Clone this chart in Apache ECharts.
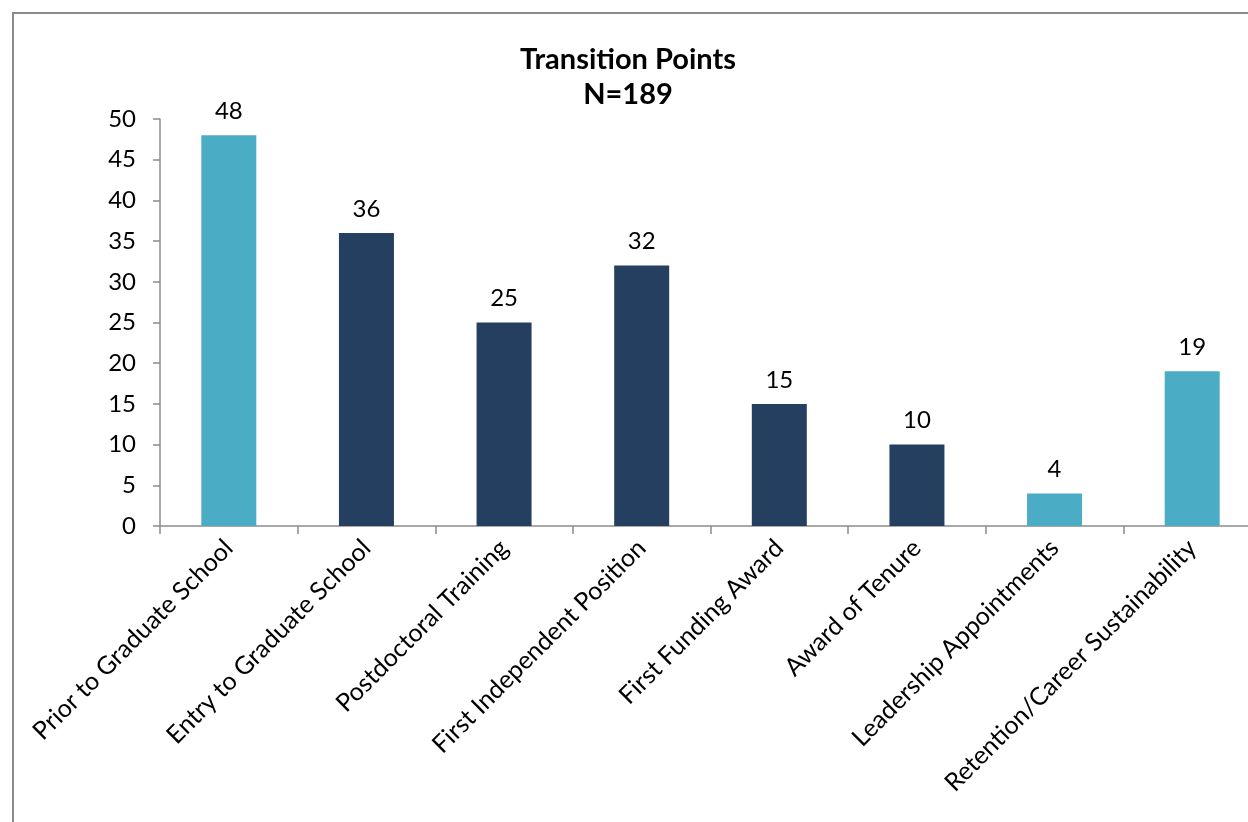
<!DOCTYPE html>
<html>
<head>
<meta charset="utf-8">
<script src="https://cdn.jsdelivr.net/npm/echarts@6/dist/echarts.min.js"></script>
<style>
html,body{margin:0;padding:0;background:#fff;}
#chart{width:1248px;height:822px;}
</style>
</head>
<body>
<div id="chart"></div>
<script>
const categories = ["Prior to Graduate School","Entry to Graduate School","Postdoctoral Training","First Independent Position","First Funding Award","Award of Tenure","Leadership Appointments","Retention/Career Sustainability"];
const values = [48, 36, 25, 32, 15, 10, 4, 19];
const barColors = ["#4BACC6","#243F60","#243F60","#243F60","#243F60","#243F60","#4BACC6","#4BACC6"];
const titleText = "Transition Points\nN=189";

const chart = echarts.init(document.getElementById('chart'));
const font = 'Lato, "Open Sans", sans-serif';
chart.setOption({
  animation: false,
  backgroundColor: '#fff',
  title: {
    text: titleText,
    left: 623,
    textAlign: 'center',
    top: 37,
    textStyle: { fontFamily: font, fontWeight: 'bold', fontSize: 29, lineHeight: 35, color: '#000' }
  },
  graphic: [{
    type: 'polyline',
    shape: { points: [[13, 822], [13, 13], [1248, 13]] },
    style: { stroke: '#8a8a8a', lineWidth: 2, fill: null },
    silent: true
  }],
  grid: { left: 160, top: 119, width: 1101, height: 407, outerBoundsMode: 'none', containLabel: false },
  xAxis: {
    type: 'category',
    data: categories,
    axisLine: { lineStyle: { color: '#8c8c8c', width: 1.5 } },
    axisTick: { show: true, length: 8, alignWithLabel: false, lineStyle: { color: '#8c8c8c', width: 1.5 } },
    axisLabel: { rotate: 45, interval: 0, margin: 18, fontFamily: font, fontSize: 25, color: '#000' }
  },
  yAxis: {
    type: 'value',
    min: 0, max: 50, interval: 5,
    splitLine: { show: false },
    axisLine: { show: true, lineStyle: { color: '#8c8c8c', width: 1.5 } },
    axisTick: { show: true, length: 7, lineStyle: { color: '#8c8c8c', width: 1.5 } },
    axisLabel: { margin: 24, fontFamily: font, fontSize: 24, color: '#000' }
  },
  series: [{
    type: 'bar',
    barWidth: 55,
    data: values.map((v, i) => ({ value: v, itemStyle: { color: barColors[i] } })),
    label: { show: true, position: 'top', distance: 12, fontFamily: font, fontSize: 24, color: '#000' }
  }]
});
</script>
</body>
</html>
